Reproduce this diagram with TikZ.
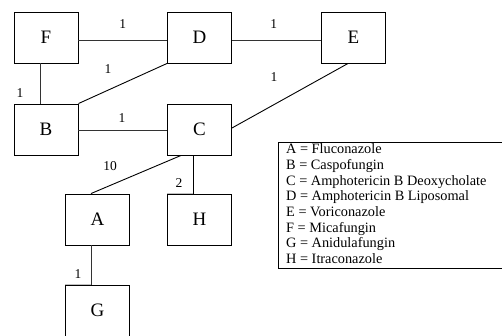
\documentclass[tikz,border=0pt]{standalone}
\usepackage{fontspec}
\setmainfont{Liberation Serif}
\begin{document}
\begin{tikzpicture}[x=1pt,y=-1pt,
  box/.style={draw=black,line width=0.9pt,minimum width=64pt,minimum height=51pt,inner sep=0pt,font=\fontsize{19}{22}\selectfont},
  link/.style={draw=black!80,line width=0.9pt},
  lab/.style={font=\fontsize{13.5}{15}\selectfont,inner sep=0pt},
  legtext/.style={font=\fontsize{14.3}{15.7}\selectfont,align=left,anchor=north west,inner sep=0pt}]
\useasboundingbox (0,0) rectangle (502,335);
\node[box] (F) at (46,37.5) {F};
\node[box] (D) at (199.5,37.5) {D};
\node[box] (E) at (353.5,37.5) {E};
\node[box] (B) at (46,129.5) {B};
\node[box] (C) at (199.5,129.5) {C};
\node[box] (A) at (97.5,219.5) {A};
\node[box] (H) at (199.5,219.5) {H};
\node[box] (G) at (97.5,310.5) {G};
% connectors
\draw[link] ([yshift=-2.5pt]F.east) -- node[lab,pos=0.5,yshift=16pt]{1} ([yshift=-2.5pt]D.west);
\draw[link] ([yshift=-2.5pt]D.east) -- node[lab,pos=0.47,yshift=16pt]{1} ([yshift=-2.5pt]E.west);
\draw[link] ([xshift=-6pt]F.south) -- ([xshift=-6pt]B.north);
\node[lab] (lFB) at (20,93) {1};
\draw[link,black] (D.south west) -- (B.north east);
\node[lab] (lDB) at (108,69) {1};
\draw[link] ([yshift=-0.5pt]B.east) -- ([yshift=-0.5pt]C.west);
\node[lab] (lBC) at (122,118) {1};
\draw[link,black] ([xshift=-5.5pt]E.south) -- ([yshift=1.5pt]C.east);
\node[lab] (lEC) at (274,77) {1};
\draw[link,black] ([xshift=-18.5pt]C.south) -- ([xshift=-6.5pt]A.north);
\node[lab] (lCA) at (110,166) {10};
\draw[link,black] ([xshift=-6.5pt]C.south) -- ([xshift=-6.5pt]H.north);
\node[lab] (lCH) at (179,183.5) {2};
\draw[link] ([xshift=-6.5pt]A.south) -- ([xshift=-6.5pt]G.north);
\node[lab] (lAG) at (78,274) {1};
% light left parts of top edges
\draw[white!75!black,line width=0.9pt] (H.north west) -- ([xshift=-6.5pt]H.north);
\draw[white!75!black,line width=0.9pt] (G.north west) -- ([xshift=-6.5pt]G.north);
% legend
\draw[line width=1pt] (504,142) -- (278,142) -- (278,268) -- (504,268);
\node[legtext] (leg) at (286,143.5) {A = Fluconazole\\B = Caspofungin\\C = Amphotericin B Deoxycholate\\D = Amphotericin B Liposomal\\E = Voriconazole\\F = Micafungin\\G = Anidulafungin\\H = Itraconazole};
\end{tikzpicture}
\end{document}
